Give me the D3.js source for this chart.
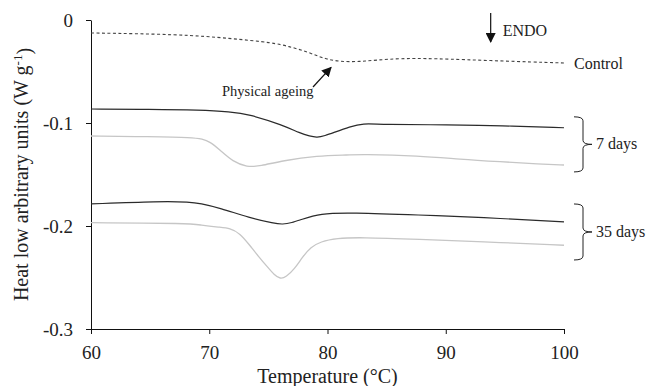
<!DOCTYPE html>
<html>
<head>
<meta charset="utf-8">
<script src="https://cdn.jsdelivr.net/npm/d3@7"></script>
<style>
  body { margin: 0; background: #fff; }
  text { font-family: "Liberation Serif", "Times New Roman", serif; fill: #222; }
</style>
</head>
<body>
<div id="chart"></div>
<script>
const controlT = [60, 67.5, 71.75, 75.4, 76.8, 78.3, 79.6, 81.0, 82.7, 84.2, 86.1, 88.7, 94.6, 100];
const controlV = [-0.0126, -0.0139, -0.0178, -0.022, -0.0259, -0.0308, -0.0372, -0.0405, -0.0405, -0.0388, -0.0374, -0.0372, -0.0398, -0.0417];

const d7aT = [60, 65, 69.2, 71.75, 73.4, 76.2, 77.7, 78.5, 79.1, 79.8, 80.5, 81.9, 83.0, 84.5, 90.3, 94.6, 100];
const d7aV = [-0.0864, -0.0867, -0.0874, -0.089, -0.0916, -0.102, -0.110, -0.1128, -0.1142, -0.1123, -0.1094, -0.1036, -0.1003, -0.1015, -0.1017, -0.1026, -0.1046];

const d7bT = [60, 65, 68.6, 69.4, 70.06, 70.9, 72.0, 73.2, 74.3, 76.2, 79.1, 81.9, 82.7, 87.8, 91.2, 94.6, 97.95, 100];
const d7bV = [-0.1126, -0.1133, -0.1140, -0.1155, -0.1182, -0.1262, -0.1376, -0.1428, -0.1418, -0.1366, -0.1317, -0.1311, -0.1304, -0.1317, -0.1352, -0.1376, -0.1398, -0.1408];

const d35aT = [60, 65.8, 68.4, 69.2, 70.9, 73.4, 75.5, 76.2, 77.0, 77.7, 79.4, 81.9, 87.8, 92.9, 100];
const d35aV = [-0.1786, -0.176, -0.1767, -0.178, -0.1825, -0.192, -0.1975, -0.1985, -0.1968, -0.194, -0.1877, -0.187, -0.1893, -0.1916, -0.196];

const d35bT = [60, 68.4, 69.2, 70.9, 71.75, 72.6, 73.4, 74.2, 74.9, 75.5, 76.0, 76.5, 77.2, 77.9, 78.6, 79.4, 80.8, 82.7, 87.8, 92.9, 100];
const d35bV = [-0.1968, -0.1974, -0.199, -0.2013, -0.2022, -0.2071, -0.2184, -0.2300, -0.2395, -0.2475, -0.2515, -0.2495, -0.2420, -0.2298, -0.2205, -0.2152, -0.2119, -0.211, -0.2129, -0.2152, -0.2187];

const xTicks = [60, 70, 80, 90, 100];
const yTicks = [0, -0.1, -0.2, -0.3];

const width = 652, height = 386;
const svg = d3.select("#chart").append("svg")
  .attr("width", width).attr("height", height);

const x = d3.scaleLinear().domain([60, 100]).range([91, 564]);
const y = d3.scaleLinear().domain([-0.3, 0]).range([329, 20]);

// axes
const xAxis = svg.append("g")
  .attr("transform", "translate(0," + y(-0.3) + ")")
  .call(d3.axisBottom(x).tickValues(xTicks).tickSize(5).tickSizeOuter(0).tickPadding(12));
const yAxis = svg.append("g")
  .attr("transform", "translate(" + x(60) + ",0)")
  .call(d3.axisLeft(y).tickValues(yTicks).tickSize(5).tickSizeOuter(0).tickPadding(13)
    .tickFormat(d => d === 0 ? "0" : d.toFixed(1)));
[xAxis, yAxis].forEach(a => {
  a.selectAll("text").style("font-size", "19px").style("font-family", "Liberation Serif");
  a.select(".domain").attr("stroke", "#111");
  a.selectAll(".tick line").attr("stroke", "#111");
});

// axis titles
svg.append("text")
  .attr("x", (x(60) + x(100)) / 2).attr("y", 383)
  .attr("text-anchor", "middle").style("font-size", "20px")
  .text("Temperature (°C)");
const yt = svg.append("text")
  .attr("transform", "translate(28," + ((y(0) + y(-0.3)) / 2) + ") rotate(-90)")
  .attr("text-anchor", "middle").style("font-size", "20px");
yt.append("tspan").text("Heat low arbitrary units (W g");
yt.append("tspan").attr("dy", "-0.45em").style("font-size", "13px").text("-1");
yt.append("tspan").attr("dy", "0.45em").text(")");

// curves
const line = d3.line()
  .x(d => x(d[0])).y(d => y(d[1]))
  .curve(d3.curveBasis);
const zip = (t, v) => t.map((d, i) => [d, v[i]]);

const series = [
  { t: controlT, v: controlV, color: "#444", dash: "3,2.5", w: 1.1 },
  { t: d7aT, v: d7aV, color: "#2b2b2b", dash: null, w: 1.2 },
  { t: d7bT, v: d7bV, color: "#c6c6c6", dash: null, w: 1.3 },
  { t: d35aT, v: d35aV, color: "#2b2b2b", dash: null, w: 1.2 },
  { t: d35bT, v: d35bV, color: "#c6c6c6", dash: null, w: 1.3 }
];
series.forEach(s => {
  svg.append("path")
    .datum(zip(s.t, s.v))
    .attr("fill", "none")
    .attr("stroke", s.color)
    .attr("stroke-width", s.w)
    .attr("stroke-dasharray", s.dash)
    .attr("d", line);
});

// markers
const defs = svg.append("defs");
defs.append("marker")
  .attr("id", "head").attr("viewBox", "0 0 10 10")
  .attr("refX", 9).attr("refY", 5)
  .attr("markerWidth", 10).attr("markerHeight", 10)
  .attr("markerUnits", "userSpaceOnUse")
  .attr("orient", "auto")
  .append("path").attr("d", "M0,0 L10,5 L0,10 Z").attr("fill", "#111");

// ENDO arrow
svg.append("line")
  .attr("x1", x(93.8)).attr("x2", x(93.8))
  .attr("y1", 13).attr("y2", 42)
  .attr("stroke", "#111").attr("stroke-width", 1.2)
  .attr("marker-end", "url(#head)");
svg.append("text").attr("x", x(93.8) + 12).attr("y", 36)
  .style("font-size", "16px").text("ENDO");

// Physical ageing annotation
svg.append("line")
  .attr("x1", 313).attr("y1", 87)
  .attr("x2", x(80.3)).attr("y2", y(-0.046))
  .attr("stroke", "#111").attr("stroke-width", 1.2)
  .attr("marker-end", "url(#head)");
svg.append("text").attr("x", 222).attr("y", 96)
  .style("font-size", "14.5px").text("Physical ageing");

svg.append("text").attr("x", x(100) + 10).attr("y", 69)
  .style("font-size", "16px").text("Control");

// brackets
function bracket(top, bot, label) {
  const x0 = x(100) + 10, x1 = x(100) + 19, tip = x(100) + 28;
  const y0 = y(top), y1 = y(bot), ym = (y0 + y1) / 2;
  svg.append("path")
    .attr("d", `M${x0},${y0} Q${x1},${y0} ${x1},${y0 + 4} L${x1},${ym - 4} Q${x1},${ym} ${tip},${ym}`
      + ` M${tip},${ym} Q${x1},${ym} ${x1},${ym + 4} L${x1},${y1 - 4} Q${x1},${y1} ${x0},${y1}`)
    .attr("fill", "none").attr("stroke", "#222").attr("stroke-width", 1);
  svg.append("text").attr("x", tip + 4).attr("y", ym + 5)
    .style("font-size", "16px").text(label);
}
bracket(-0.094, -0.1475, "7 days");
bracket(-0.1786, -0.233, "35 days");
</script>
</body>
</html>
